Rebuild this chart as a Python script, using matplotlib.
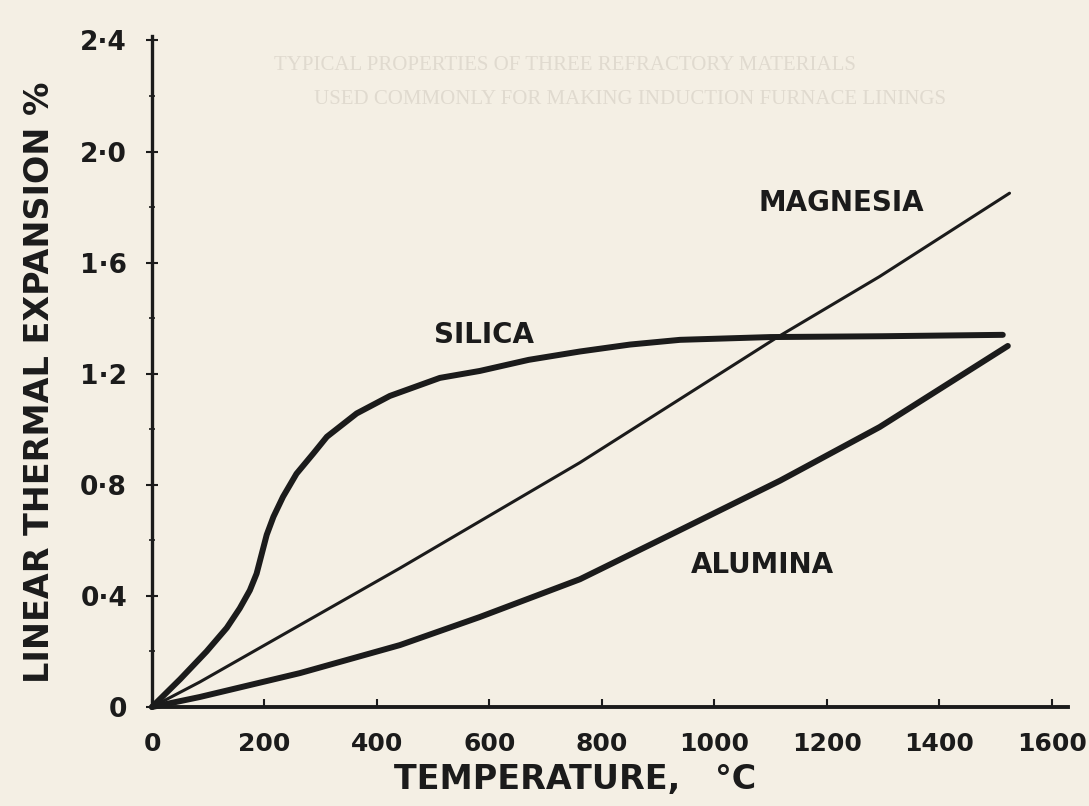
import matplotlib
matplotlib.use('Agg')
import matplotlib.pyplot as plt
import numpy as np

# data (temperature degC, linear expansion %)
silica_T = [0, 50, 97, 133, 156, 174, 186, 195, 204, 216, 233, 257, 287, 311, 364, 423, 512,
            583, 670, 761, 850, 939, 1100, 1300, 1513]
silica_E = [0, 0.10, 0.20, 0.285, 0.355, 0.42, 0.48, 0.55, 0.62, 0.685, 0.757, 0.84, 0.913,
            0.973, 1.057, 1.12, 1.185, 1.21, 1.25, 1.28, 1.305, 1.322, 1.332, 1.335, 1.34]

magnesia_T = [0, 85, 441, 761, 1111, 1294, 1525]
magnesia_E = [0, 0.09, 0.50, 0.88, 1.33, 1.55, 1.85]

alumina_T = [0, 85, 263, 441, 583, 761, 939, 1117, 1294, 1522]
alumina_E = [0, 0.036, 0.122, 0.223, 0.324, 0.46, 0.637, 0.815, 1.008, 1.30]

yticks = [0, 0.4, 0.8, 1.2, 1.6, 2.0, 2.4]
ytick_labels = ['0', '0·4', '0·8', '1·2', '1·6', '2·0', '2·4']
xticks = [0, 200, 400, 600, 800, 1000, 1200, 1400, 1600]

ink = '#1b1b1b'
paper = '#f4efe4'
ghost = '#e0dacf'

fig = plt.figure(figsize=(10.89, 8.06), dpi=100, facecolor=paper)

#%% faint show-through text from the back of the page
g = dict(color=ghost, family='Liberation Serif', fontsize=15, zorder=0, ha='center', va='center')
fig.text(565/1089, 1-65/806, 'TYPICAL PROPERTIES OF THREE REFRACTORY MATERIALS', **g)
fig.text(630/1089, 1-100/806, 'USED COMMONLY FOR MAKING INDUCTION FURNACE LININGS', **g)

#%% axes
ax = fig.add_axes([152/1089, 99/806, 916/1089, 671/806])
ax.set_facecolor('none')
ax.set_xlim(0, 1629)
ax.set_ylim(0, 2.416)

ax.plot(silica_T, silica_E, c=ink, lw=4.3, solid_capstyle='round', solid_joinstyle='round', clip_on=False, zorder=3)
ax.plot(alumina_T, alumina_E, c=ink, lw=4.3, solid_capstyle='round', solid_joinstyle='round', clip_on=False, zorder=3)
ax.plot(magnesia_T, magnesia_E, c=ink, lw=2.2, solid_capstyle='round', solid_joinstyle='round', clip_on=False, zorder=3)

lab = dict(color=ink, fontsize=20, fontweight='bold', ha='center', va='center')
ax.text(1225, 1.814, 'MAGNESIA', **lab)
ax.text(590, 1.34, 'SILICA', **lab)
ax.text(1085, 0.511, 'ALUMINA', **lab)

for s in ['top', 'right']:
    ax.spines[s].set_visible(False)
ax.spines['left'].set_linewidth(2.4)
ax.spines['bottom'].set_linewidth(2.8)
ax.spines['left'].set_color(ink)
ax.spines['bottom'].set_color(ink)

ax.set_yticks(yticks)
ax.set_yticklabels(ytick_labels)
ax.set_yticks(np.arange(0.2, 2.4, 0.4), minor=True)
ax.set_xticks(xticks)
ax.set_xticklabels([str(v) for v in xticks])
ax.tick_params(axis='y', which='major', direction='inout', length=8, width=1.5, color=ink, pad=14,
               labelsize=19, labelcolor=ink)
ax.tick_params(axis='y', which='minor', direction='inout', length=5, width=1.2, color=ink)
ax.tick_params(axis='x', direction='in', length=6, width=1.5, color=ink, pad=18,
               labelsize=18, labelcolor=ink)
for t in ax.get_xticklabels() + ax.get_yticklabels():
    t.set_fontweight('bold')

fig.text(40/1089, 1-382/806, 'LINEAR THERMAL EXPANSION %', rotation=90, ha='center', va='center',
         fontsize=24, fontweight='bold', color=ink)
fig.text(575/1089, 1-780/806, 'TEMPERATURE,   °C', ha='center', va='center',
         fontsize=24, fontweight='bold', color=ink)

plt.savefig('out.png', dpi=100, facecolor=paper)
